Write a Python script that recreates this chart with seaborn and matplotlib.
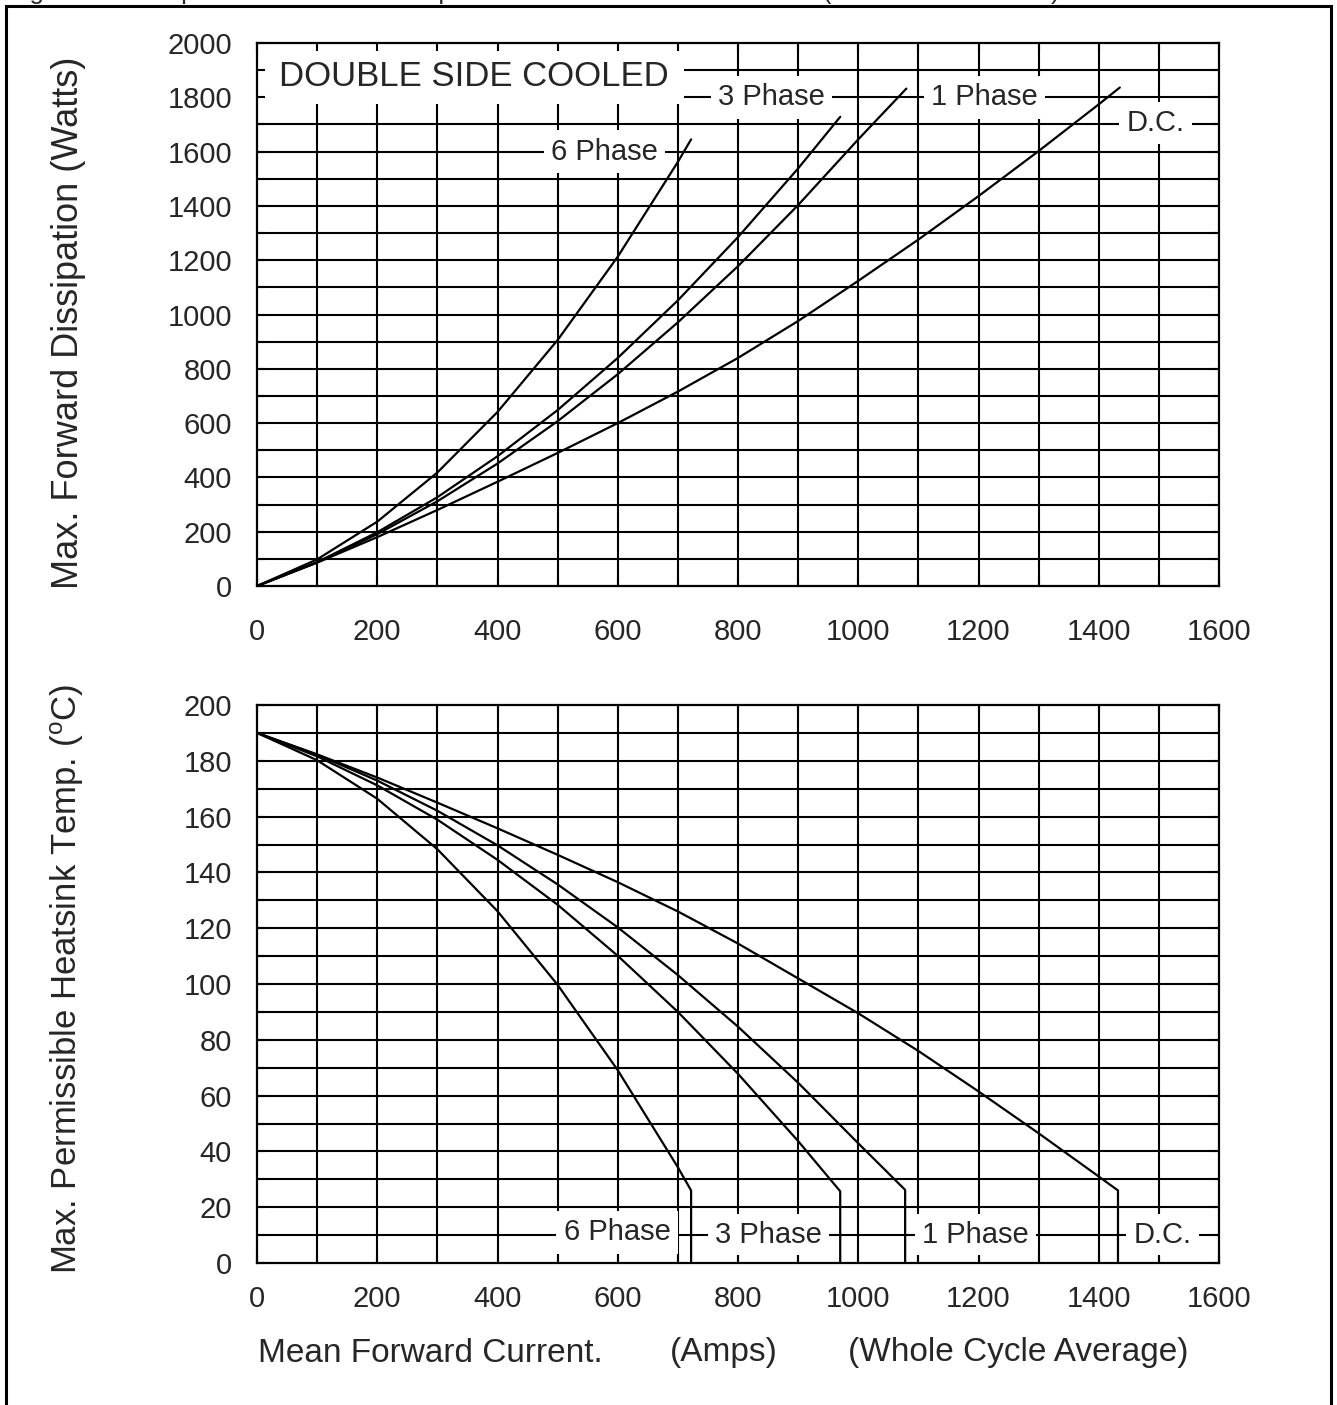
import numpy as np
import pandas as pd
import matplotlib
matplotlib.use("Agg")
import matplotlib.pyplot as plt
from matplotlib.patches import Rectangle
import seaborn as sns

# ---------------- data ----------------
# Upper chart: max forward dissipation (W) vs mean forward current (A)
dc_I_top = [0, 100, 200, 300, 400, 500, 600, 700, 800, 900, 1000, 1100, 1200, 1300, 1400, 1435]
dc_P_top = [0, 86, 180, 280, 384, 490, 600, 716, 840, 976, 1124, 1276, 1436, 1602, 1774, 1836]

ph1_I_top = [0, 100, 200, 300, 400, 500, 600, 700, 800, 900, 1000, 1080]
ph1_P_top = [0, 87, 191, 312, 451, 607, 780, 971, 1178, 1403, 1645, 1832]

ph3_I_top = [0, 100, 200, 300, 400, 500, 600, 700, 800, 900, 970]
ph3_P_top = [0, 88, 198, 327, 478, 648, 840, 1052, 1285, 1538, 1728]

ph6_I_top = [0, 100, 200, 300, 400, 500, 600, 700, 722]
ph6_P_top = [0, 98, 237, 418, 641, 906, 1213, 1562, 1645]

# Lower chart: max permissible heatsink temperature (degC) vs mean forward current (A)
dc_I_bot = [0, 100, 200, 300, 400, 500, 600, 700, 800, 900, 1000, 1100, 1200, 1300, 1400, 1432, 1432]
dc_T_bot = [190, 182.3, 174, 165, 155.8, 146.3, 136.5, 126, 114.5, 102, 89.5, 76, 61.5, 46.5, 31, 26, 0]

ph1_I_bot = [0, 100, 200, 300, 400, 500, 600, 700, 800, 900, 1000, 1078, 1078]
ph1_T_bot = [190, 182.2, 172.9, 162.1, 149.7, 135.7, 120.3, 103.2, 84.7, 64.6, 42.9, 26.2, 0]

ph3_I_bot = [0, 100, 200, 300, 400, 500, 600, 700, 800, 900, 970, 970]
ph3_T_bot = [190, 181.6, 171.2, 158.9, 144.5, 128.4, 110.1, 90, 67.8, 43.7, 25.7, 0]

ph6_I_bot = [0, 100, 200, 300, 400, 500, 600, 700, 722, 722]
ph6_T_bot = [190, 180.2, 166.4, 148.3, 126.1, 99.7, 69.1, 34.3, 26, 0]

series_names = ["D.C.", "1 Phase", "3 Phase", "6 Phase"]

x_major = [0, 200, 400, 600, 800, 1000, 1200, 1400, 1600]
top_y_major = [0, 200, 400, 600, 800, 1000, 1200, 1400, 1600, 1800, 2000]
bot_y_major = [0, 20, 40, 60, 80, 100, 120, 140, 160, 180, 200]

# label anchor positions (data coords)
top_labels = {"6 Phase": (578, 1600), "3 Phase": (856, 1800),
              "1 Phase": (1210, 1800), "D.C.": (1494, 1705)}
bot_labels = {"6 Phase": (599, 11), "3 Phase": (851, 10),
              "1 Phase": (1195, 10), "D.C.": (1506, 10)}

# ---------------- style ----------------
sns.set_style("ticks")
plt.rcParams["font.family"] = ["Liberation Sans", "DejaVu Sans"]
plt.rcParams["mathtext.fontset"] = "custom"
plt.rcParams["mathtext.rm"] = "Liberation Sans"
plt.rcParams["mathtext.it"] = "Liberation Sans:italic"
plt.rcParams["mathtext.bf"] = "Liberation Sans:bold"

W, H = 1337, 1405
fig = plt.figure(figsize=(W / 100, H / 100), dpi=100)
fig.patch.set_facecolor("white")

ax1 = fig.add_axes([257 / W, 1 - 586 / H, 962 / W, 543 / H])
ax2 = fig.add_axes([257 / W, 1 - 1263 / H, 962 / W, 558 / H])

top_df = pd.concat([
    pd.DataFrame({"current": dc_I_top, "value": dc_P_top, "series": "D.C."}),
    pd.DataFrame({"current": ph1_I_top, "value": ph1_P_top, "series": "1 Phase"}),
    pd.DataFrame({"current": ph3_I_top, "value": ph3_P_top, "series": "3 Phase"}),
    pd.DataFrame({"current": ph6_I_top, "value": ph6_P_top, "series": "6 Phase"}),
], ignore_index=True)
bot_df = pd.concat([
    pd.DataFrame({"current": dc_I_bot, "value": dc_T_bot, "series": "D.C."}),
    pd.DataFrame({"current": ph1_I_bot, "value": ph1_T_bot, "series": "1 Phase"}),
    pd.DataFrame({"current": ph3_I_bot, "value": ph3_T_bot, "series": "3 Phase"}),
    pd.DataFrame({"current": ph6_I_bot, "value": ph6_T_bot, "series": "6 Phase"}),
], ignore_index=True)

pal = {n: "black" for n in series_names}

for ax, df in ((ax1, top_df), (ax2, bot_df)):
    sns.lineplot(data=df, x="current", y="value", hue="series", palette=pal,
                 estimator=None, sort=False, legend=False, lw=1.6, ax=ax, zorder=3)

ax1.set_xlim(0, 1600)
ax1.set_ylim(0, 2000)
ax2.set_xlim(0, 1600)
ax2.set_ylim(0, 200)

x_minor = np.arange(0, 1601, 100)
for ax, ymaj, ystep in ((ax1, top_y_major, 100), (ax2, bot_y_major, 10)):
    ax.set_xticks(x_major)
    ax.set_xticks(x_minor, minor=True)
    ax.set_yticks(ymaj)
    y_minor = np.arange(ymaj[0], ymaj[-1] + 1, ystep)
    ax.set_yticks(y_minor, minor=True)
    # grid lines
    for xv in x_minor[1:-1]:
        ax.axvline(xv, color="black", lw=1.5, zorder=1)
    for yv in y_minor[1:-1]:
        ax.axhline(yv, color="black", lw=1.5, zorder=1)
    ax.set_axisbelow(False)
    ax.tick_params(which="both", direction="in", top=True, right=True,
                   length=6, width=1.5, color="black")
    ax.tick_params(axis="both", which="major", labelsize=21)
    ax.tick_params(axis="y", which="major", pad=18)
    for s in ax.spines.values():
        s.set_linewidth(1.6)
        s.set_color("black")
        s.set_visible(True)
    ax.set_xlabel("")

ax1.tick_params(axis="x", which="major", pad=23)
ax2.tick_params(axis="x", which="major", pad=16)

box = dict(boxstyle="square,pad=0.25", fc="white", ec="none")
for name, (xv, yv) in top_labels.items():
    ax1.text(xv, yv, name, fontsize=21, ha="center", va="center", bbox=box, zorder=2)
for name, (xv, yv) in bot_labels.items():
    ax2.text(xv, yv, name, fontsize=21, ha="center", va="center", bbox=box, zorder=2)

# "DOUBLE SIDE COOLED" panel
ax1.add_patch(Rectangle((0, 0.8875), 0.444, 0.1125, transform=ax1.transAxes,
                        fc="white", ec="none", zorder=2))
ax1.text(360, 1876, "DOUBLE SIDE COOLED", fontsize=25, ha="center", va="center", zorder=2.1)

ax1.set_ylabel("Max. Forward Dissipation (Watts)", fontsize=26)
ax1.yaxis.set_label_coords(-0.178, 0.485)
ax2.set_ylabel(r"Max. Permissible Heatsink Temp. ($^{\mathrm{o}}$C)", fontsize=25)
ax2.yaxis.set_label_coords(-0.178, 0.51)

ylab = 1 - 1353 / H
fig.text(258 / W, ylab, "Mean Forward Current.", fontsize=24, ha="left", va="center")
fig.text(724 / W, ylab, "(Amps)", fontsize=24, ha="center", va="center")
fig.text(1188 / W, ylab, "(Whole Cycle Average)", fontsize=24, ha="right", va="center")

# cut-off caption and frame
fig.text(8 / W, 1 + 1 / H,
         "Figure 3 - Dissipation & Heatsink Temperature - Mean Forward Current (Double side cooled)",
         fontsize=18.5, ha="left", va="baseline")
fig.add_artist(Rectangle((6 / W, -0.02), (1331 - 6) / W, 1 - 6 / H + 0.02,
                         transform=fig.transFigure, fill=False, lw=2.2, ec="black"))

fig.savefig("out.png", dpi=100)
